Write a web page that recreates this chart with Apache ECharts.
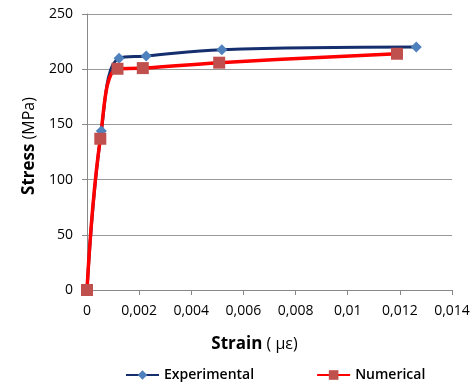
<!DOCTYPE html>
<html>
<head>
<meta charset="utf-8">
<script src="https://cdn.jsdelivr.net/npm/echarts@6/dist/echarts.min.js"></script>
<style>
html,body{margin:0;padding:0;background:#fff;}
#c{width:475px;height:387px;}
</style>
</head>
<body>
<div id="c"></div>
<script>
// Data
var experimentalStrain = [0, 0.00055, 0.00123, 0.00227, 0.00517, 0.01263];
var experimentalStress = [0, 144, 210, 212, 217.6, 220];
var numericalStrain = [0, 0.00051, 0.00117, 0.00214, 0.00507, 0.01189];
var numericalStress = [0, 137, 200.4, 201, 205.9, 214];
var seriesNames = ['Experimental', 'Numerical'];
var xTicks = [0, 0.002, 0.004, 0.006, 0.008, 0.01, 0.012, 0.014];
var yTicks = [0, 50, 100, 150, 200, 250];

function pairs(xs, ys) { return xs.map(function (x, i) { return [x, ys[i]]; }); }

var font = '"Open Sans", "Liberation Sans", sans-serif';
var chart = echarts.init(document.getElementById('c'));
chart.setOption({
  animation: false,
  backgroundColor: '#fff',
  textStyle: { fontFamily: font },
  grid: { left: 87, right: 23, top: 14, bottom: 97, containLabel: false },
  xAxis: {
    type: 'value',
    min: xTicks[0], max: xTicks[xTicks.length - 1], interval: 0.002,
    name: '{b|Strain}{n| ( με)}',
    nameLocation: 'middle',
    nameGap: 46,
    nameTextStyle: {
      padding: [0, 30, 0, 0],
      rich: {
        b: { fontFamily: font, fontWeight: 'bold', fontSize: 17, color: '#000' },
        n: { fontFamily: font, fontSize: 16, color: '#000' }
      }
    },
    axisLine: { show: true, onZero: false, lineStyle: { color: '#888', width: 1 } },
    axisTick: { show: true, length: 5, lineStyle: { color: '#888' } },
    splitLine: { show: false },
    axisLabel: {
      margin: 14, fontSize: 14, color: '#000', fontFamily: font,
      formatter: function (v) {
        var best = xTicks.reduce(function (a, b) { return Math.abs(b - v) < Math.abs(a - v) ? b : a; });
        return String(best).replace('.', ',');
      }
    }
  },
  yAxis: {
    type: 'value',
    min: yTicks[0], max: yTicks[yTicks.length - 1], interval: 50,
    name: '{b|Stress}{n| (MPa)}',
    nameLocation: 'middle',
    nameRotate: 90,
    nameGap: 48,
    nameTextStyle: {
      padding: [0, 0, 0, 12],
      rich: {
        b: { fontFamily: font, fontWeight: 'bold', fontSize: 17, color: '#000' },
        n: { fontFamily: font, fontSize: 16, color: '#000' }
      }
    },
    axisLine: { show: true, lineStyle: { color: '#888', width: 1 } },
    axisTick: { show: true, length: 5, lineStyle: { color: '#888' } },
    splitLine: { show: true, lineStyle: { color: '#999', width: 1 } },
    axisLabel: { margin: 14, fontSize: 14, color: '#000', fontFamily: font }
  },
  legend: {
    left: 120, top: 363,
    itemWidth: 33, itemHeight: 12, itemGap: 62,
    textStyle: { fontSize: 14, color: '#000', fontFamily: font, fontWeight: 600 },
    data: seriesNames
  },
  series: [
    {
      name: seriesNames[0],
      type: 'line',
      data: pairs(experimentalStrain, experimentalStress),
      smooth: 0.4,
      symbol: 'diamond',
      symbolSize: 11,
      showAllSymbol: true,
      lineStyle: { color: '#152f6e', width: 3 },
      itemStyle: { color: '#4f81bd', borderWidth: 0 }
    },
    {
      name: seriesNames[1],
      type: 'line',
      data: pairs(numericalStrain, numericalStress),
      smooth: 0.4,
      symbol: 'rect',
      symbolSize: 12,
      showAllSymbol: true,
      lineStyle: { color: '#ff0000', width: 3.5 },
      itemStyle: { color: '#c0504d', borderWidth: 0 }
    }
  ]
});
</script>
</body>
</html>
